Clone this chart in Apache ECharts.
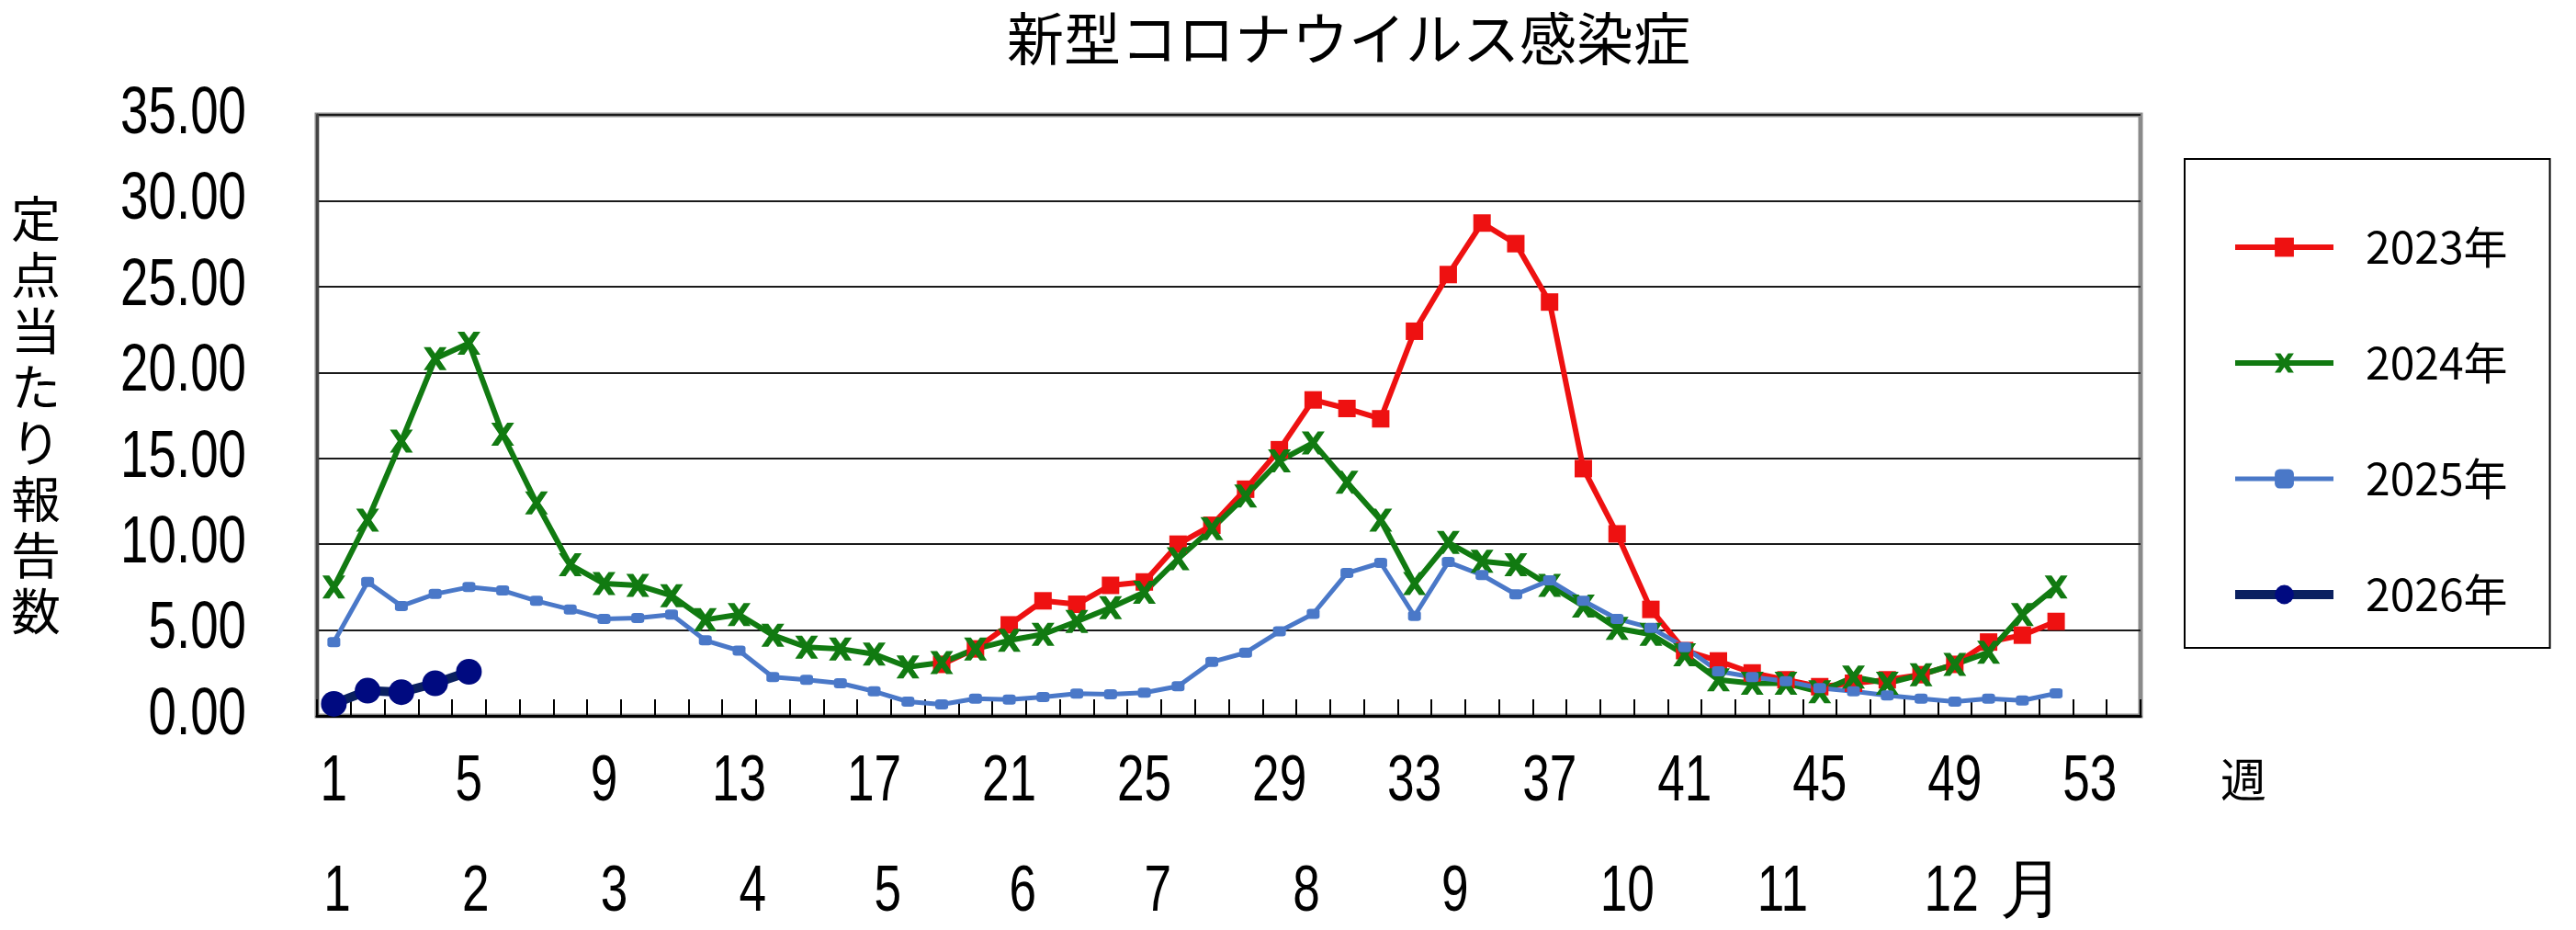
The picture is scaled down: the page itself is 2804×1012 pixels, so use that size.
<!DOCTYPE html>
<html>
<head>
<meta charset="utf-8">
<script src="https://cdn.jsdelivr.net/npm/echarts@6/dist/echarts.min.js"></script>
<style>
  html, body { margin: 0; padding: 0; background: #fff; }
  #chart { width: 2804px; height: 1012px; }
</style>
</head>
<body>
<div id="chart"></div>
<script>
// 週 (categories)
const weeks = ['1','2','3','4','5','6','7','8','9','10','11','12','13','14','15','16','17','18','19','20',
  '21','22','23','24','25','26','27','28','29','30','31','32','33','34','35','36','37','38','39','40',
  '41','42','43','44','45','46','47','48','49','50','51','52','53','54'];

// 定点当たり報告数
const y2023 = [null, null, null, null, null, null, null, null, null, null,
  null, null, null, null, null, null, null, null, 3.0, 3.9,
  5.3, 6.7, 6.5, 7.6, 7.8, 10.0, 11.1, 13.2, 15.5, 18.4,
  17.9, 17.3, 22.4, 25.7, 28.7, 27.5, 24.1, 14.4, 10.6, 6.2,
  3.8, 3.2, 2.5, 2.1, 1.7, 1.9, 2.1, 2.4, 3.0, 4.3,
  4.7, 5.5];
const y2024 = [7.5, 11.4, 16.0, 20.8, 21.7, 16.4, 12.4, 8.8, 7.7, 7.6,
  7.0, 5.6, 5.9, 4.7, 4.0, 3.9, 3.6, 2.85, 3.1, 3.9,
  4.4, 4.75, 5.5, 6.3, 7.2, 9.15, 10.9, 12.8, 14.85, 15.9,
  13.6, 11.4, 7.7, 10.1, 9.0, 8.8, 7.6, 6.4, 5.1, 4.75,
  3.56, 2.1, 1.9, 1.9, 1.4, 2.26, 1.9, 2.4, 3.0, 3.7,
  5.9, 7.5];
const y2025 = [4.3, 7.8, 6.4, 7.1, 7.5, 7.3, 6.7, 6.2, 5.65, 5.7,
  5.9, 4.4, 3.8, 2.26, 2.1, 1.9, 1.43, 0.83, 0.67, 1.0,
  0.95, 1.1, 1.3, 1.26, 1.35, 1.73, 3.14, 3.68, 4.92, 5.94,
  8.32, 8.91, 5.82, 8.96, 8.2, 7.08, 7.89, 6.7, 5.65, 5.13,
  4.0, 2.6, 2.26, 2.02, 1.62, 1.43, 1.19, 1.0, 0.83, 1.0,
  0.9, 1.31];
const y2026 = [0.7, 1.47, 1.38, 1.9, 2.57];

// 月 row (positions in weeks)
const monthLabels = ['1','2','3','4','5','6','7','8','9','10','11','12','月'];
const monthPos = [1.1, 5.2, 9.3, 13.4, 17.4, 21.4, 25.4, 29.8, 34.2, 39.3, 43.9, 48.9, 51.3];

const numFont = "'Liberation Sans', 'Noto Sans', sans-serif";
const jpFont = "'Noto Sans CJK JP', 'Noto Sans', sans-serif";
// x 形マーカー
const crossPath = 'path://M0,0 L3,0 L5,2.8 L7,0 L10,0 L6.6,5 L10,10 L7,10 L5,7.2 L3,10 L0,10 L3.4,5 Z';

const chart = echarts.init(document.getElementById('chart'));

const option = {
  animation: false,
  backgroundColor: '#fff',
  title: [
    {
      text: '新型コロナウイルス感染症',
      left: 1463,
      textAlign: 'center',
      top: 6,
      textStyle: { fontFamily: jpFont, fontSize: 62, fontWeight: 'normal', color: '#000' },
    },
    {
      text: '週',
      left: 2412,
      top: 818,
      textStyle: { fontFamily: jpFont, fontSize: 50, fontWeight: 'normal', color: '#000' },
    },
  ],
  legend: {
    orient: 'vertical',
    left: 2378,
    top: 173,
    padding: [72, 46, 34, 50],
    itemWidth: 107,
    itemHeight: 26,
    itemGap: 78,
    borderColor: '#000',
    borderWidth: 2,
    lineStyle: { width: 'inherit' },
    textStyle: { fontFamily: jpFont, fontSize: 48, color: '#000', padding: [0, 0, 0, 30] },
    data: ['2023年', '2024年', '2025年', '2026年'],
  },
  grid: {
    left: 345,
    right: 474,
    top: 125,
    bottom: 233,
    show: true,
    borderColor: '#8a8a8a',
    borderWidth: 5,
  },
  xAxis: [
    {
      type: 'category',
      data: weeks,
      boundaryGap: true,
      axisLine: { show: true, lineStyle: { color: '#000', width: 3 } },
      axisTick: { show: true, inside: true, length: 18, interval: 0, lineStyle: { color: '#000', width: 2 } },
      axisLabel: { interval: 3, margin: 38, fontFamily: numFont, fontSize: 70, color: '#000' },
      splitLine: { show: false },
    },
    {
      type: 'value',
      min: 0.5,
      max: 54.5,
      position: 'bottom',
      axisLine: { show: false },
      axisTick: { show: false },
      splitLine: { show: false },
      axisLabel: {
        customValues: monthPos,
        margin: 158,
        fontFamily: numFont,
        fontSize: 70,
        color: '#000',
        formatter: (v) => {
          const i = monthPos.indexOf(v);
          return i >= 0 ? monthLabels[i] : '';
        },
      },
    },
  ],
  yAxis: {
    type: 'value',
    min: 0,
    max: 35,
    interval: 5,
    name: '定点当たり報告数'.split('').join('\n'),
    nameLocation: 'middle',
    nameRotate: 0,
    nameGap: 306,
    nameTextStyle: { fontFamily: jpFont, fontSize: 54, lineHeight: 61, color: '#000', align: 'center', verticalAlign: 'middle', padding: [0, 0, 22, 0] },
    axisLine: { show: true, lineStyle: { color: '#444', width: 3 } },
    axisTick: { show: false },
    axisLabel: {
      margin: 77,
      fontFamily: numFont,
      fontSize: 72,
      color: '#000',
      formatter: (v) => v.toFixed(2),
    },
    splitLine: { show: true, lineStyle: { color: '#1a1a1a', width: 2 } },
  },
  series: [
    {
      name: '2023年',
      type: 'line',
      data: y2023,
      showAllSymbol: true,
      symbol: 'rect',
      symbolSize: 19,
      lineStyle: { color: '#ee1111', width: 6 },
      itemStyle: { color: '#ee1111' },
    },
    {
      name: '2024年',
      type: 'line',
      data: y2024,
      showAllSymbol: true,
      symbol: crossPath,
      symbolSize: 25,
      lineStyle: { color: '#117a11', width: 6 },
      itemStyle: { color: '#117a11' },
    },
    {
      name: '2025年',
      type: 'line',
      data: y2025,
      showAllSymbol: true,
      symbol: 'roundRect',
      symbolSize: [14, 11],
      lineStyle: { color: '#4a78c8', width: 5 },
      itemStyle: { color: '#4a78c8' },
    },
    {
      name: '2026年',
      type: 'line',
      data: y2026,
      showAllSymbol: true,
      symbol: 'circle',
      symbolSize: 28,
      lineStyle: { color: '#0a2060', width: 10 },
      itemStyle: { color: '#000a80' },
    },
  ],
};

chart.setOption(option);

// 目盛の数字は縦長の細い書体なので横方向だけ縮める
function condenseNumbers() {
  const zr = chart.getZr();
  const done = new Set();
  zr.storage.getDisplayList(true).forEach((el) => {
    const txt = el.style && el.style.text;
    if (typeof txt !== 'string' || !/^[0-9.]+$/.test(txt)) return;
    let target = el;
    if (el.type === 'tspan' && el.parent && el.parent.type === 'text') target = el.parent;
    if (done.has(target)) return;
    done.add(target);
    target.scaleX = 0.76;
    target.markRedraw();
  });
  zr.refreshImmediately();
}
condenseNumbers();
</script>
</body>
</html>
